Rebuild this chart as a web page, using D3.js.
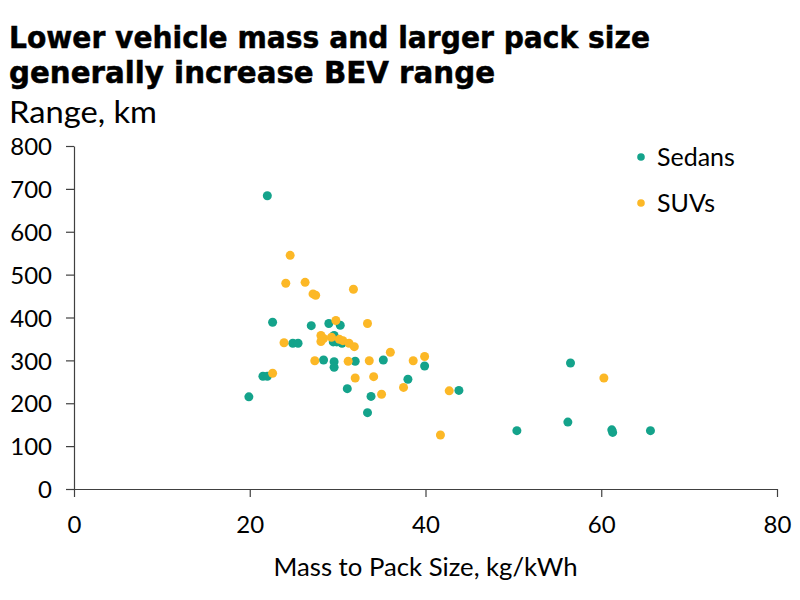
<!DOCTYPE html>
<html>
<head>
<meta charset="utf-8">
<script src="https://cdn.jsdelivr.net/npm/d3@7"></script>
<style>
  html, body { margin: 0; padding: 0; background: #fff; }
  svg { display: block; }
</style>
</head>
<body>
<svg id="chart" width="800" height="600"></svg>
<script>
// ---- Data ----
const titleLines = ["Lower vehicle mass and larger pack size", "generally increase BEV range"];
const subtitle = "Range, km";
const xAxisTitle = "Mass to Pack Size, kg/kWh";
const seriesNames = ["Sedans", "SUVs"];
const seriesColors = ["#14A38B", "#FCB826"];

const xTicks = [0, 20, 40, 60, 80];
const yTicks = [0, 100, 200, 300, 400, 500, 600, 700, 800];

const sedanX = [22.0, 22.6, 27.0, 29.0, 30.3, 29.6, 29.5, 29.9, 30.5, 24.9, 25.5, 28.4, 29.6, 29.6, 32.0, 21.5, 22.0, 19.9, 31.1, 35.2, 39.9, 38.0, 43.8, 33.8, 33.4, 56.5, 50.4, 56.2, 61.2, 61.3, 65.6];
const sedanY = [684, 389, 381, 386, 382, 358, 343, 343, 340, 340, 340, 301, 297, 284, 298, 263, 263, 215, 234, 301, 287, 256, 230, 216, 178, 294, 136, 156, 138, 132, 136];

const suvX = [24.6, 24.1, 26.3, 27.2, 27.5, 31.8, 29.8, 33.4, 28.1, 28.4, 29.3, 28.1, 30.2, 30.6, 31.3, 31.9, 23.9, 27.4, 31.2, 33.6, 36.0, 38.6, 39.9, 22.6, 32.0, 34.1, 37.5, 42.7, 35.0, 41.7, 60.3];
const suvY = [545, 480, 482, 455, 452, 466, 393, 386, 358, 351, 354, 344, 349, 346, 340, 332, 341, 299, 298, 299, 319, 299, 309, 270, 259, 262, 237, 229, 221, 126, 259];

// ---- Chart ----
const svg = d3.select("#chart");
const x = d3.scaleLinear().domain([0, 80]).range([74, 777]);
const y = d3.scaleLinear().domain([0, 800]).range([489, 146]);

const titleFont = "'DejaVu Sans', Verdana, sans-serif";
const bodyFont = "Lato, 'Open Sans', sans-serif";

// Title
svg.append("text").attr("x", 9).attr("y", 48)
  .attr("font-family", titleFont).attr("font-weight", "bold").attr("font-size", 30)
  .attr("textLength", 641).attr("lengthAdjust", "spacingAndGlyphs")
  .attr("stroke", "#000").attr("stroke-width", 0.5)
  .attr("fill", "#000").text(titleLines[0]);
svg.append("text").attr("x", 9).attr("y", 83)
  .attr("font-family", titleFont).attr("font-weight", "bold").attr("font-size", 30)
  .attr("textLength", 486).attr("lengthAdjust", "spacingAndGlyphs")
  .attr("stroke", "#000").attr("stroke-width", 0.5)
  .attr("fill", "#000").text(titleLines[1]);
svg.append("text").attr("x", 9).attr("y", 123)
  .attr("font-family", bodyFont).attr("font-size", 31)
  .attr("textLength", 148).attr("lengthAdjust", "spacingAndGlyphs")
  .attr("fill", "#000").text(subtitle);

// Axes
const axisColor = "#404040";
const yAxis = svg.append("g").attr("transform", `translate(${x(0)},0)`)
  .call(d3.axisLeft(y).tickValues(yTicks).tickSize(8).tickPadding(14).tickSizeOuter(0));
const xAxis = svg.append("g").attr("transform", `translate(0,${y(0)})`)
  .call(d3.axisBottom(x).tickValues(xTicks).tickSize(8).tickPadding(14).tickSizeOuter(0));

[xAxis, yAxis].forEach(g => {
  g.select(".domain").attr("stroke", axisColor).attr("stroke-width", 1.2);
  g.selectAll(".tick line").attr("stroke", axisColor).attr("stroke-width", 1.2);
  g.selectAll(".tick text").attr("font-family", bodyFont).attr("font-size", 24).attr("fill", "#000");
});
yAxis.selectAll(".tick text").attr("dy", "0.36em");
xAxis.selectAll(".tick text").attr("dy", "0.9em");

// X axis title
svg.append("text").attr("x", x(40)).attr("y", 576)
  .attr("text-anchor", "middle")
  .attr("font-family", bodyFont).attr("font-size", 25)
  .attr("textLength", 304).attr("lengthAdjust", "spacingAndGlyphs")
  .attr("fill", "#000").text(xAxisTitle);

// Points
const sedans = sedanX.map((v, i) => ({ x: v, y: sedanY[i] }));
const suvs = suvX.map((v, i) => ({ x: v, y: suvY[i] }));
[sedans, suvs].forEach((data, si) => {
  svg.append("g").selectAll("circle").data(data).enter().append("circle")
    .attr("cx", d => x(d.x)).attr("cy", d => y(d.y)).attr("r", 4.5)
    .attr("fill", seriesColors[si]);
});

// Legend
const legendY = [157, 203];
seriesNames.forEach((name, i) => {
  svg.append("circle").attr("cx", 641).attr("cy", legendY[i]).attr("r", 3.8).attr("fill", seriesColors[i]);
  svg.append("text").attr("x", 657).attr("y", legendY[i]).attr("dy", "0.36em")
    .attr("font-family", bodyFont).attr("font-size", 25).attr("fill", "#000").text(name);
});
</script>
</body>
</html>
